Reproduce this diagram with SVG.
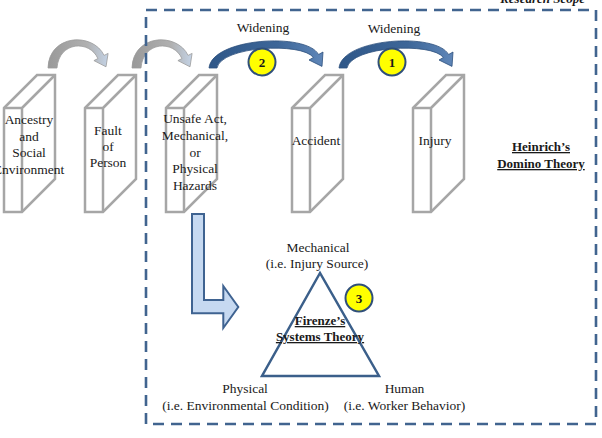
<svg xmlns="http://www.w3.org/2000/svg" xmlns:xlink="http://www.w3.org/1999/xlink" width="602" height="438" viewBox="0 0 602 438">
<style>
text{font-family:"Liberation Serif","Times New Roman",serif;font-size:13.5px;fill:#1a1a1a;text-anchor:middle}
.b{font-weight:bold;font-size:13px}
.u{text-decoration:underline}
.dom{fill:#fff;stroke:#a6a6a6;stroke-width:2.5;stroke-linejoin:miter}
.domi{fill:none;stroke:#a6a6a6;stroke-width:2.5}
.badge{fill:#ffff00;stroke:#2f4f7a;stroke-width:2}
.scope{fill:none;stroke:#41648f;stroke-width:2.6;stroke-dasharray:11 7}
.garc{fill:url(#gg);stroke:#9a9a9a;stroke-width:0.8}
.barc{fill:url(#bg);stroke:#2c4f7c;stroke-width:0.8}
</style>
<defs>
<linearGradient id="gg" x1="0" y1="0" x2="1" y2="0">
<stop offset="0" stop-color="#999999"/>
<stop offset="0.65" stop-color="#b0b0b0"/>
<stop offset="1" stop-color="#c4d3e6"/>
</linearGradient>
<linearGradient id="bg" x1="0" y1="0" x2="1" y2="0">
<stop offset="0" stop-color="#2f5788"/>
<stop offset="0.6" stop-color="#3d6698"/>
<stop offset="1" stop-color="#5f86b8"/>
</linearGradient>
<g id="dom">
<path class="dom" d="M0,108 L33,75 L51,75 L51,179 L18,212 L0,212 Z"/>
<path class="domi" d="M0,108 H18 V212 M18,108 L51,75"/>
</g>
<path id="garrow" d="M48,68 C49,34 93,32 104.1,55.4 L108.1,53.4 L106,66.8 L93.9,60.6 L97.9,58.6 C90,40 59,41 57,68 Z"/>
<path id="barrow" d="M209,68 C212,38 306,32 318.6,54.5 L323,52 L322,66.4 L309,60 L313.4,57.5 C302,42 221,46 217,68 Z"/>
</defs>

<text x="585" y="3" class="b" style="font-style:italic;text-anchor:end">Research Scope</text>

<g id="connectors">
<use xlink:href="#garrow" class="garc"/>
<use xlink:href="#garrow" class="garc" transform="translate(84,0)"/>
<use xlink:href="#barrow" class="barc"/>
<use xlink:href="#barrow" class="barc" transform="translate(130,0)"/>
<path d="M192,214 H204 V300 H223.3 V286 L238.3,307 L223.3,328 V313.3 H192 Z" fill="#c6d9f1" stroke="#3f6391" stroke-width="2" stroke-linejoin="miter"/>
</g>

<g id="scope">
<rect class="scope" x="146" y="10" width="450" height="414"/>
</g>

<g id="node-ancestry">
<use xlink:href="#dom" transform="translate(4,0)"/>
<text x="29" y="124">Ancestry</text>
<text x="29" y="140.5">and</text>
<text x="29" y="157">Social</text>
<text x="29" y="173.5">Environment</text>
</g>

<g id="node-fault">
<use xlink:href="#dom" transform="translate(85,0)"/>
<text x="108" y="135">Fault</text>
<text x="108" y="151">of</text>
<text x="108" y="167">Person</text>
</g>

<g id="node-unsafe">
<use xlink:href="#dom" transform="translate(166,0)"/>
<text x="195" y="123">Unsafe Act,</text>
<text x="195" y="140">Mechanical,</text>
<text x="195" y="157">or</text>
<text x="195" y="173">Physical</text>
<text x="195" y="190">Hazards</text>
</g>

<g id="node-accident">
<use xlink:href="#dom" transform="translate(292,0)"/>
<text x="316" y="145">Accident</text>
</g>

<g id="node-injury">
<use xlink:href="#dom" transform="translate(413,0)"/>
<text x="435" y="145">Injury</text>
</g>

<g id="label-widening-2">
<text x="263" y="32">Widening</text>
</g>
<g id="label-widening-1">
<text x="394" y="33">Widening</text>
</g>

<g id="badge-2">
<circle class="badge" cx="262" cy="62" r="13.5"/>
<text x="262" y="66.5" class="b">2</text>
</g>
<g id="badge-1">
<circle class="badge" cx="392" cy="62" r="13.5"/>
<text x="392" y="66.5" class="b">1</text>
</g>

<g id="node-heinrich">
<text x="541" y="151" class="b u">Heinrich’s</text>
<text x="541" y="168" class="b u">Domino Theory</text>
</g>

<g id="node-firenze">
<path d="M320,273 L262,376 L379,376 Z" fill="none" stroke="#3b5f8a" stroke-width="2.5" stroke-linejoin="miter"/>
<text x="320" y="325" class="b u">Firenze’s</text>
<text x="320" y="341" class="b u">Systems Theory</text>
</g>

<g id="badge-3">
<circle class="badge" cx="359" cy="298" r="13.5"/>
<text x="359" y="302.5" class="b">3</text>
</g>

<g id="node-mechanical">
<text x="318" y="252">Mechanical</text>
<text x="317" y="268">(i.e. Injury Source)</text>
</g>

<g id="node-physical">
<text x="245" y="393">Physical</text>
<text x="245.5" y="410">(i.e. Environmental Condition)</text>
</g>

<g id="node-human">
<text x="404.5" y="393">Human</text>
<text x="404.5" y="410">(i.e. Worker Behavior)</text>
</g>
</svg>
